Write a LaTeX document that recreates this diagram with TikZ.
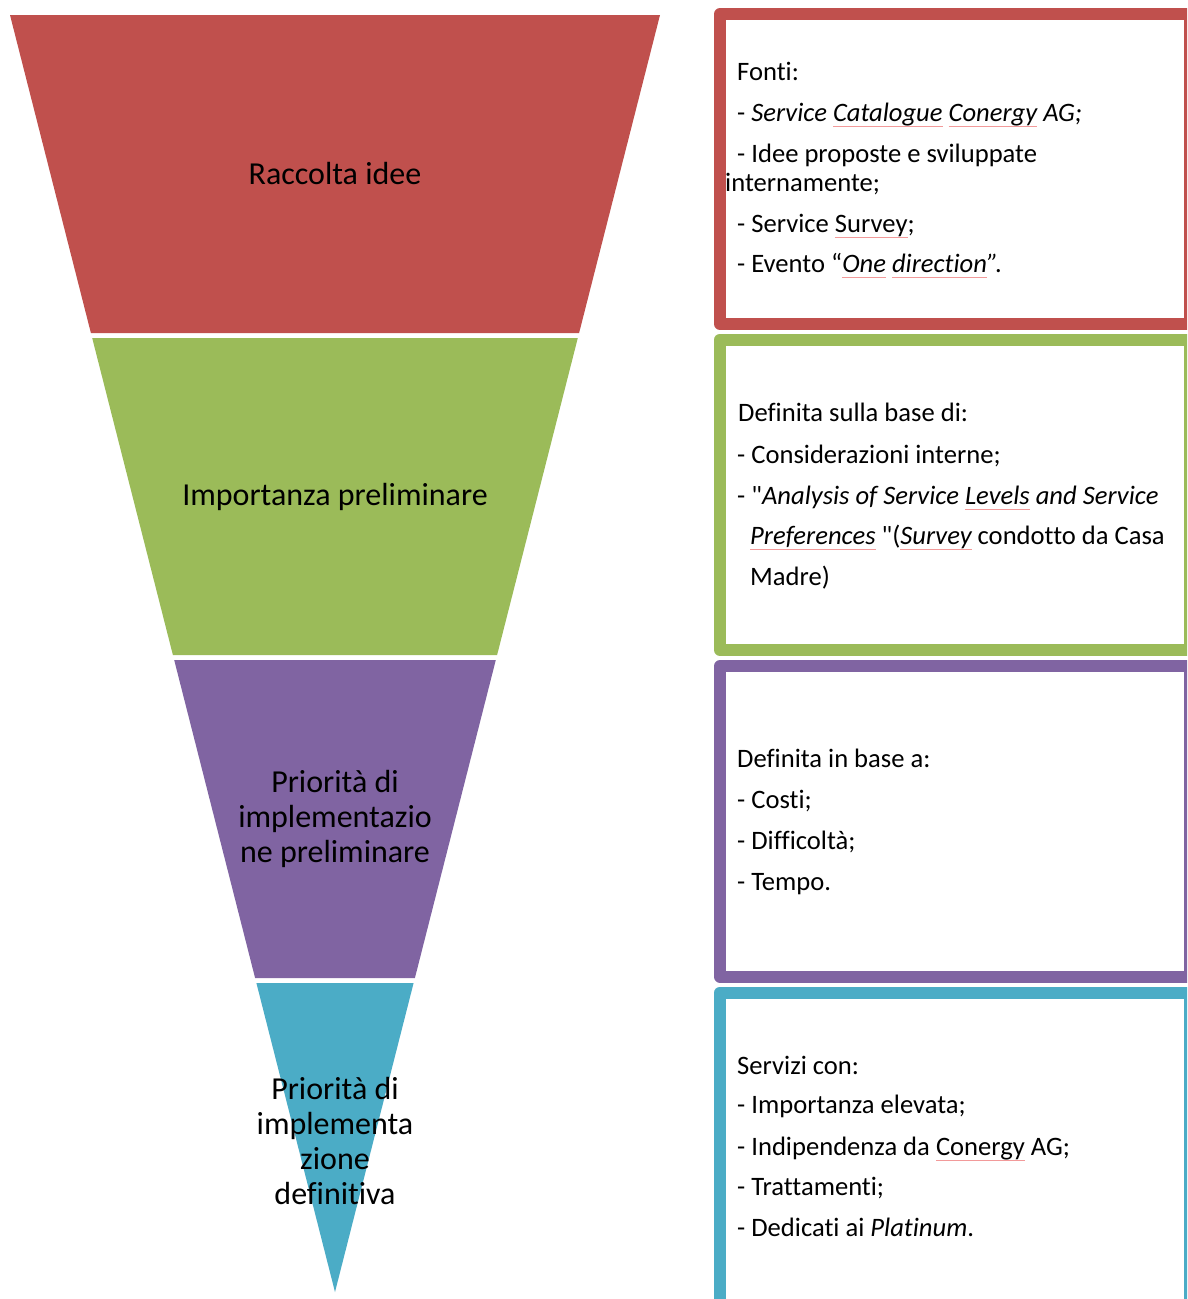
\documentclass[tikz,border=0pt]{standalone}
\usepackage{fontspec}
\setmainfont{Carlito}[Ligatures={NoCommon}]

\definecolor{fred}{HTML}{C0504D}
\definecolor{fgreen}{HTML}{9BBB59}
\definecolor{fpurple}{HTML}{8064A2}
\definecolor{fteal}{HTML}{4BACC6}
\definecolor{squig}{HTML}{F29A9A}

% thin red proofing mark under a word
\newsavebox\spellbox
\newcommand\spellmark[1]{\sbox\spellbox{#1}\rlap{\textcolor{squig}{\rule[-0.2em]{\wd\spellbox}{0.7pt}}}\usebox\spellbox}
% straight double quote, from the font loaded without the tex-text mapping
\font\plainquote="Carlito" at 26.6pt
\newcommand\dq{{\plainquote\char34}}

\begin{document}
\begin{tikzpicture}[x=1pt,y=-1pt,
  sidebox/.style={draw=#1,line width=12pt,line join=round,fill=white},
  funlabel/.style={align=center,inner sep=0pt,font=\fontsize{32}{35}\selectfont},
  ln/.style={anchor=base west,inner sep=0pt,font=\fontsize{26.6}{29}\selectfont}]
\clip (0,0) rectangle (1187,1299);
\fill[white] (0,0) rectangle (1187,1299);

% funnel stages
\fill[fred]    (10,15)     -- (660,15)    -- (579.1,333) -- (90.9,333)  -- cycle;
\fill[fgreen]  (92.2,338)  -- (577.8,338) -- (497.1,655) -- (172.9,655) -- cycle;
\fill[fpurple] (174.2,660) -- (495.8,660) -- (414.9,978) -- (255.1,978) -- cycle;
\fill[fteal]   (256.4,983) -- (413.6,983) -- (335,1292) -- cycle;

\node[funlabel] (s1) at (335,174) {Raccolta idee};
\node[funlabel] (s2) at (335,497) {Importanza preliminare};
\node[funlabel] (s3) at (335,819) {Priorità di\\implementazio\\ne preliminare};
\node[funlabel] (s4) at (335,1141) {Priorità di\\implementa\\zione\\definitiva};

% side boxes
\draw[sidebox=fred]    (720,14)    rectangle (1190,324);
\draw[sidebox=fgreen]  (720,339.5) rectangle (1190,650);
\draw[sidebox=fpurple] (720,666)   rectangle (1190,976.5);
\draw[sidebox=fteal]   (720,992.5) rectangle (1190,1312);

% sources
\node[ln] (r1) at (737,80.5)  {Fonti:};
\node[ln] (r2) at (737,121.2) {- {\itshape Service \spellmark{Catalogue} \spellmark{Conergy} AG;}};
\node[ln] (r3) at (737,162.8) {- Idee proposte e sviluppate};
\node[ln] (r4) at (725,191.2) {internamente;};
\node[ln] (r5) at (737,232.2) {- Service \spellmark{Survey};};
\node[ln] (r6) at (737,272.2) {- Evento “{\itshape \spellmark{One} \spellmark{direction}”.}};

% preliminary importance
\node[ln] (g1) at (738,421.5) {Definita sulla base di:};
\node[ln] (g2) at (737,463.2) {- Considerazioni interne;};
\node[ln] (g3) at (737,504.5) {- \dq{\itshape Analysis of Service \spellmark{Levels} and Service}};
\node[ln] (g4) at (750,544.5) {{\itshape\spellmark{Preferences}} \dq({\itshape\spellmark{Survey}} condotto da Casa};
\node[ln] (g5) at (750,585.5) {Madre)};

% preliminary implementation priority
\node[ln] (p1) at (737,767.8) {Definita in base a:};
\node[ln] (p2) at (737,808.2) {- Costi;};
\node[ln] (p3) at (737,849.5) {- Difficoltà;};
\node[ln] (p4) at (737,890.5) {- Tempo.};

% final implementation priority
\node[ln] (t1) at (737,1074.2) {Servizi con:};
\node[ln] (t2) at (737,1113.8) {- Importanza elevata;};
\node[ln] (t3) at (737,1155.5) {- Indipendenza da \spellmark{Conergy} AG;};
\node[ln] (t4) at (737,1195.5) {- Trattamenti;};
\node[ln] (t5) at (737,1236.5) {- Dedicati ai {\itshape Platinum}.};
\end{tikzpicture}
\end{document}
